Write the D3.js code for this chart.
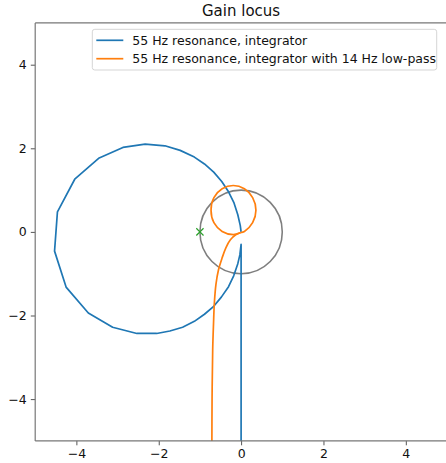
<!DOCTYPE html>
<html>
<head>
<meta charset="utf-8">
<script src="https://cdn.jsdelivr.net/npm/d3@7"></script>
<style>
  body { margin: 0; background: #fff; }
  svg { display: block; font-family: "DejaVu Sans", sans-serif; }
</style>
</head>
<body>
<div id="chart"></div>
<script>
// 数据: 读自图中的点 (复平面坐标)
const seriesNames = [
  "55 Hz resonance, integrator",
  "55 Hz resonance, integrator with 14 Hz low-pass",
];

// 蓝线: 积分器 + 55 Hz 共振
const bluePoints = [
  [0.0, -5.3], [0.0, -2.0], [0.0, -0.3],
  [-0.03, -0.55], [-0.08, -0.76], [-0.18, -1.05], [-0.305, -1.31],
  [-0.48, -1.56], [-0.665, -1.78], [-0.89, -1.97], [-1.135, -2.14],
  [-1.42, -2.28], [-1.73, -2.37], [-2.05, -2.43], [-2.53, -2.43],
  [-3.12, -2.28], [-3.71, -1.94], [-4.25, -1.32], [-4.53, -0.46],
  [-4.46, 0.48], [-4.04, 1.26], [-3.46, 1.76], [-2.87, 2.02],
  [-2.33, 2.10], [-1.85, 2.06], [-1.48, 1.95], [-1.135, 1.79],
  [-0.89, 1.625], [-0.665, 1.43], [-0.47, 1.207], [-0.305, 0.96],
  [-0.172, 0.694], [-0.08, 0.41], [-0.02, 0.15], [0.0, 0.0],
];

// 橙线: 加 14 Hz 低通 (先是尾部, 后是共振环)
const orangeTail = [
  [-0.71, -5.3], [-0.705, -4.0], [-0.69, -2.83], [-0.67, -2.2],
  [-0.65, -1.71], [-0.61, -1.25], [-0.55, -0.91], [-0.46, -0.62],
  [-0.37, -0.38], [-0.26, -0.19], [-0.13, -0.07], [-0.02, -0.02],
];
const orangeLoop = [
  [-0.02, -0.02], [-0.19, -0.065], [-0.46, 0.01], [-0.66, 0.22],
  [-0.73, 0.52], [-0.66, 0.82], [-0.46, 1.03], [-0.19, 1.11],
  [0.08, 1.03], [0.28, 0.82], [0.36, 0.52], [0.28, 0.22],
  [0.08, 0.01], [-0.02, -0.02],
];

const unitCircle = [{ cx: 0, cy: 0, r: 1 }];
const criticalPoint = [[-1, 0]];

const xTicks = [-4, -2, 0, 2, 4];
const yTicks = [-4, -2, 0, 2, 4];
const xDomain = [-5, 5];
const yDomain = [-5, 5];

const WIDTH = 446;
const HEIGHT = 463;
const margin = { left: 35.2, right: -1, top: 22.9, bottom: 22.1 };

const svg = d3
  .select("#chart")
  .append("svg")
  .attr("width", WIDTH)
  .attr("height", HEIGHT);

const x = d3
  .scaleLinear()
  .domain(xDomain)
  .range([margin.left, WIDTH - margin.right]);
const y = d3
  .scaleLinear()
  .domain(yDomain)
  .range([HEIGHT - margin.bottom, margin.top]);

svg
  .append("defs")
  .append("clipPath")
  .attr("id", "plotClip")
  .append("rect")
  .attr("x", x(-5))
  .attr("y", y(5))
  .attr("width", x(5) - x(-5))
  .attr("height", y(-5) - y(5));

const plot = svg.append("g").attr("clip-path", "url(#plotClip)");

// 单位圆
plot
  .selectAll("ellipse.unit")
  .data(unitCircle)
  .join("ellipse")
  .attr("class", "unit")
  .attr("cx", (d) => x(d.cx))
  .attr("cy", (d) => y(d.cy))
  .attr("rx", (d) => x(d.r) - x(0))
  .attr("ry", (d) => y(0) - y(d.r))
  .attr("fill", "none")
  .attr("stroke", "#7f7f7f")
  .attr("stroke-width", 1.6);

const lineLinear = d3
  .line()
  .x((d) => x(d[0]))
  .y((d) => y(d[1]));
const lineSmooth = d3
  .line()
  .curve(d3.curveCatmullRom.alpha(0.5))
  .x((d) => x(d[0]))
  .y((d) => y(d[1]));

plot
  .append("path")
  .attr("d", lineLinear(bluePoints))
  .attr("fill", "none")
  .attr("stroke", "#1f77b4")
  .attr("stroke-width", 1.7)
  .attr("stroke-linejoin", "round");

[orangeTail, orangeLoop].forEach((pts) => {
  plot
    .append("path")
    .attr("d", lineSmooth(pts))
    .attr("fill", "none")
    .attr("stroke", "#ff7f0e")
    .attr("stroke-width", 1.7)
    .attr("stroke-linejoin", "round");
});

// -1 点
plot
  .selectAll("path.crit")
  .data(criticalPoint)
  .join("path")
  .attr("class", "crit")
  .attr("transform", (d) => `translate(${x(d[0])},${y(d[1])})`)
  .attr("d", d3.symbol(d3.symbolX, 36)())
  .attr("fill", "none")
  .attr("stroke", "#2ca02c")
  .attr("stroke-width", 1.2);

// 坐标轴
const xAxis = svg
  .append("g")
  .attr("transform", `translate(0,${y(-5)})`)
  .call(d3.axisBottom(x).tickValues(xTicks).tickSize(4.4).tickPadding(4.2));
const yAxis = svg
  .append("g")
  .attr("transform", `translate(${x(-5)},0)`)
  .call(d3.axisLeft(y).tickValues(yTicks).tickSize(4.4).tickPadding(4.2));

[xAxis, yAxis].forEach((g) => {
  g.select(".domain").remove();
  g.selectAll(".tick line").attr("stroke", "#555").attr("stroke-width", 1);
  g.selectAll(".tick text")
    .attr("fill", "#111")
    .attr("font-size", "12.5px")
    .attr("font-family", "DejaVu Sans");
});

// 边框
const spine = { stroke: "#777", width: 1.2 };
[
  [x(-5), y(5), x(-5), y(-5)],
  [x(-5), y(-5), x(5), y(-5)],
  [x(-5), y(5), x(5), y(5)],
  [x(5), y(5), x(5), y(-5)],
].forEach(([x1, y1, x2, y2]) => {
  svg
    .append("line")
    .attr("x1", x1)
    .attr("y1", y1)
    .attr("x2", x2)
    .attr("y2", y2)
    .attr("stroke", spine.stroke)
    .attr("stroke-width", spine.width);
});

// 标题
svg
  .append("text")
  .attr("x", (x(-5) + x(5)) / 2)
  .attr("y", 16)
  .attr("text-anchor", "middle")
  .attr("font-size", "15px")
  .attr("fill", "#111")
  .text("Gain locus");

// 图例
const legend = svg.append("g");
legend
  .append("rect")
  .attr("x", 92.3)
  .attr("y", 29.3)
  .attr("width", 344.4)
  .attr("height", 40.7)
  .attr("rx", 2.5)
  .attr("fill", "#fff")
  .attr("fill-opacity", 0.8)
  .attr("stroke", "#d5d5d5")
  .attr("stroke-width", 1);

const legendColors = ["#1f77b4", "#ff7f0e"];
const item = legend
  .selectAll("g.item")
  .data(seriesNames)
  .join("g")
  .attr("class", "item")
  .attr("transform", (d, i) => `translate(96.3,${40.3 + i * 18.4})`);

item
  .append("line")
  .attr("x1", 0)
  .attr("x2", 27)
  .attr("stroke", (d, i) => legendColors[i])
  .attr("stroke-width", 1.7);

item
  .append("text")
  .attr("x", 36)
  .attr("y", 4.2)
  .attr("font-size", "12.5px")
  .attr("fill", "#111")
  .text((d) => d);
</script>
</body>
</html>
